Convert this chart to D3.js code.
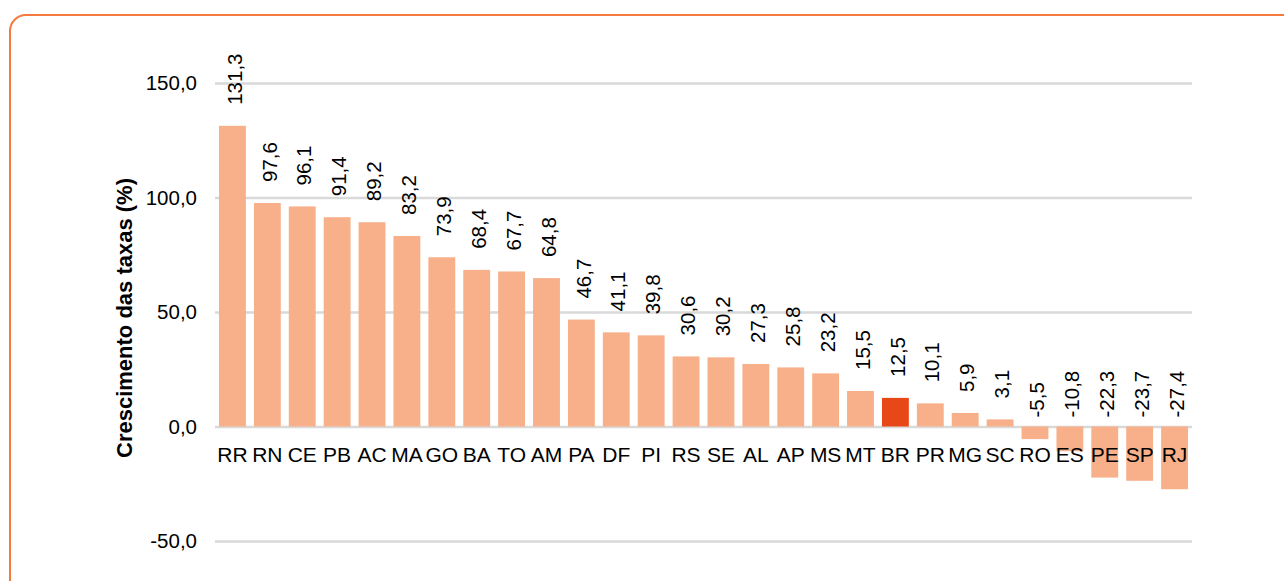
<!DOCTYPE html>
<html>
<head>
<meta charset="utf-8">
<script src="https://cdn.jsdelivr.net/npm/d3@7"></script>
<style>
  body { margin: 0; background: #fff; }
  svg { display: block; font-family: "Liberation Sans", Arial, sans-serif; }
</style>
</head>
<body>
<svg id="chart"></svg>
<script>
// states, sorted by growth
var states = ["RR","RN","CE","PB","AC","MA","GO","BA","TO","AM","PA","DF","PI","RS","SE","AL","AP","MS","MT","BR","PR","MG","SC","RO","ES","PE","SP","RJ"];
var growth = [131.3,97.6,96.1,91.4,89.2,83.2,73.9,68.4,67.7,64.8,46.7,41.1,39.8,30.6,30.2,27.3,25.8,23.2,15.5,12.5,10.1,5.9,3.1,-5.5,-10.8,-22.3,-23.7,-27.4];
var yTicks = [-50, 0, 50, 100, 150];

var frameWidth = 1284, frameHeight = 581;
var plotLeft = 215, plotRight = 1192, plotTop = 83, plotBottom = 541;
var fontSize = 20.5;

var svg = d3.select("#chart")
  .attr("width", frameWidth)
  .attr("height", frameHeight);

// orange frame, runs off the right and bottom edges
svg.append("rect")
  .attr("x", 10).attr("y", 15)
  .attr("width", 1320).attr("height", 620)
  .attr("rx", 16)
  .attr("fill", "none")
  .attr("stroke", "#f47a3e")
  .attr("stroke-width", 2);

// comma decimal, plain hyphen for negatives
var fmt = function(v) { return d3.format(".1f")(v).replace(".", ",").replace("\u2212", "-"); };

var x = d3.scaleBand().domain(states).range([plotLeft, plotRight]).paddingInner(0.23).paddingOuter(0.115);
var y = d3.scaleLinear().domain([-50, 150]).range([plotBottom, plotTop]);

// gridlines + y labels
var yAxis = svg.append("g")
  .attr("transform", "translate(" + plotLeft + ",0)")
  .call(d3.axisLeft(y).tickValues(yTicks).tickSize(-(plotRight - plotLeft)).tickPadding(18).tickFormat(fmt));
yAxis.select(".domain").remove();
yAxis.selectAll(".tick line").attr("stroke", "#d9d9d9").attr("stroke-width", 2.5);
yAxis.selectAll(".tick text").attr("font-size", fontSize).attr("fill", "#000")
  .attr("font-family", "Liberation Sans, Arial, sans-serif");

// bars
svg.append("g").selectAll("rect")
  .data(states)
  .enter().append("rect")
  .attr("x", function(d) { return x(d); })
  .attr("width", x.bandwidth())
  .attr("y", function(d, i) { return Math.min(y(growth[i]), y(0)); })
  .attr("height", function(d, i) { return Math.abs(y(growth[i]) - y(0)); })
  .attr("fill", function(d) { return d == "BR" ? "#e84818" : "#f7b08a"; });

// category labels
svg.append("g").selectAll("text")
  .data(states)
  .enter().append("text")
  .attr("x", function(d) { return x(d) + x.bandwidth() / 2; })
  .attr("y", y(0) + 35)
  .attr("text-anchor", "middle")
  .attr("font-size", 21)
  .text(function(d) { return d; });

// value labels, rotated
svg.append("g").selectAll("text")
  .data(states)
  .enter().append("text")
  .attr("transform", function(d, i) {
    var v = growth[i];
    var ty = v >= 0 ? y(v) - 21 : y(0) - 9;
    return "translate(" + (x(d) + x.bandwidth() / 2 + 2) + "," + ty + ") rotate(-90)";
  })
  .attr("dy", "0.35em")
  .attr("font-size", fontSize)
  .text(function(d, i) { return fmt(growth[i]); });

// y axis title
svg.append("text")
  .attr("transform", "translate(124,318) rotate(-90)")
  .attr("dy", "0.35em")
  .attr("text-anchor", "middle")
  .attr("font-size", 22)
  .attr("font-weight", "bold")
  .text("Crescimento das taxas (%)");
</script>
</body>
</html>
